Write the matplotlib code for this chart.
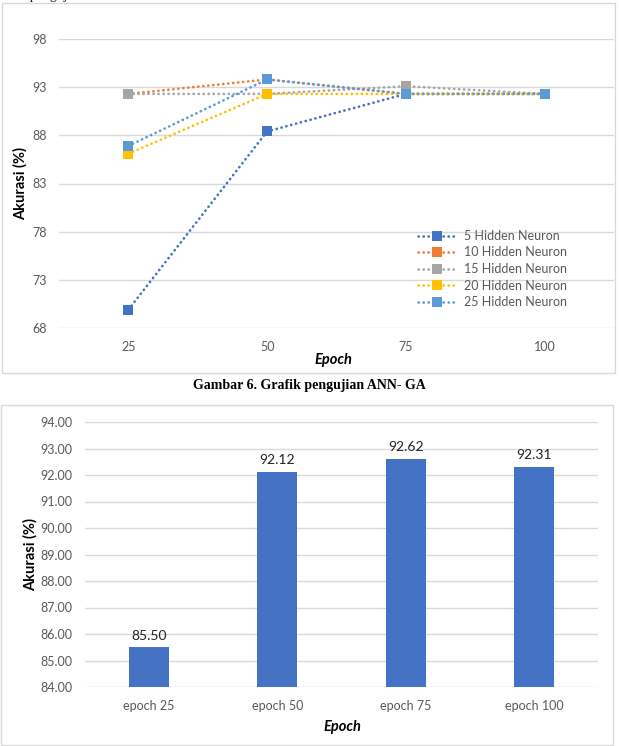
import matplotlib.pyplot as plt
from matplotlib.patches import Rectangle

# data for the line chart (ANN-GA)
epochs = ['25', '50', '75', '100']
series_names = ['5 Hidden Neuron', '10 Hidden Neuron', '15 Hidden Neuron',
                '20 Hidden Neuron', '25 Hidden Neuron']
hn5 = [69.9, 88.4, 92.3, 92.3]
hn10 = [92.3, 93.8, 92.3, 92.3]
hn15 = [92.3, 92.3, 93.1, 92.3]
hn20 = [86.1, 92.3, 92.3, 92.3]
hn25 = [86.9, 93.8, 92.3, 92.3]
line_yticks = [68, 73, 78, 83, 88, 93, 98]

# data for the bar chart
bar_labels = ['epoch 25', 'epoch 50', 'epoch 75', 'epoch 100']
bar_values = [85.50, 92.12, 92.62, 92.31]
bar_yticks = [84, 85, 86, 87, 88, 89, 90, 91, 92, 93, 94]

colors = ['#4472C4', '#ED7D31', '#A5A5A5', '#FFC000', '#5B9BD5']
grid_c = '#D9D9D9'
tick_c = '#595959'
W, H = 619, 746

plt.rcParams['font.family'] = ['Lato', 'DejaVu Sans']

fig = plt.figure(figsize=(W / 100, H / 100), dpi=100)


def ax_px(x0, y0, x1, y1):
    # pixel box (top-left origin) -> axes
    return fig.add_axes([x0 / W, 1 - y1 / H, (x1 - x0) / W, (y1 - y0) / H])


def frame_px(x0, y0, x1, y1):
    fig.patches.append(Rectangle((x0 / W, 1 - y1 / H), (x1 - x0) / W, (y1 - y0) / H,
                                 transform=fig.transFigure, fill=False,
                                 edgecolor=grid_c, lw=1.0))


def style_axes(ax, ylab_xy, xlab_xy):
    ax.grid(axis='y', color=grid_c, lw=1)
    ax.set_axisbelow(True)
    for s in ax.spines.values():
        s.set_visible(False)
    ax.tick_params(length=0, colors=tick_c, labelsize=9)
    ax.tick_params(axis='x', pad=9)
    ax.tick_params(axis='y', pad=9)
    ax.set_ylabel('Akurasi (%)', fontsize=10.5, fontweight='bold', color='black')
    ax.set_xlabel('Epoch', fontsize=10.5, fontweight='bold', style='italic', color='black')
    ax.yaxis.set_label_coords(*ylab_xy)
    ax.xaxis.set_label_coords(*xlab_xy)
    ax.yaxis.label.set_va('center')
    ax.xaxis.label.set_va('center')


# cut-off text line above the first chart (as in the page scan)
fig.text(0.0, 1.0 + 4 / H, 'hasil pengujian ANN- GA', family='Liberation Serif',
         fontsize=10, va='center', ha='left', color='#222222')

# ---------- line chart ----------
frame_px(2, 3, 615, 373)
ax1 = ax_px(59, 39, 614, 328)
x = list(range(len(epochs)))
for name, vals, c in zip(series_names, [hn5, hn10, hn15, hn20, hn25], colors):
    ax1.plot(x, vals, linestyle=(0, (0.1, 1.8)), dash_capstyle='round', lw=1.9,
             color=c, marker='s', markersize=6.5, markeredgewidth=0, label=name)
ax1.set_xlim(-0.5, len(epochs) - 0.5)
ax1.set_ylim(68, 98)
ax1.set_yticks(line_yticks)
ax1.set_xticks(x)
ax1.set_xticklabels(epochs)
style_axes(ax1, ((20 - 59) / 555, 0.5), ((333 - 59) / 555, (328 - 360) / 289))
leg = ax1.legend(loc='upper left', bbox_to_anchor=(418 / W, 1 - 230 / H),
                 bbox_transform=fig.transFigure, frameon=False, fontsize=9,
                 handlelength=3.0, handletextpad=0.65, labelspacing=0.36,
                 borderpad=0, borderaxespad=0)
for t in leg.get_texts():
    t.set_color(tick_c)

fig.text(309 / W, 1 - 385 / H, 'Gambar 6. Grafik pengujian ANN- GA',
         family='Liberation Serif', fontweight='bold', fontsize=10,
         ha='center', va='center')

# ---------- bar chart ----------
frame_px(1, 405, 613, 745)
ax2 = ax_px(85, 422, 598, 687)
bx = list(range(len(bar_labels)))
bars = ax2.bar(bx, bar_values, width=0.31, color='#4472C4', zorder=2)
ax2.set_xlim(-0.5, len(bar_labels) - 0.5)
ax2.set_ylim(84, 94)
ax2.set_yticks(bar_yticks)
ax2.set_yticklabels(['%.2f' % v for v in bar_yticks])
ax2.set_xticks(bx)
ax2.set_xticklabels(bar_labels)
style_axes(ax2, ((30 - 85) / 513, 0.5), ((342 - 85) / 513, (687 - 727) / 265))
for b, v in zip(bars, bar_values):
    ax2.annotate('%.2f' % v, (b.get_x() + b.get_width() / 2, v), xytext=(0, 4),
                 textcoords='offset points', ha='center', va='bottom',
                 fontsize=10, color='#222222')

fig.savefig('out.png', dpi=100)
